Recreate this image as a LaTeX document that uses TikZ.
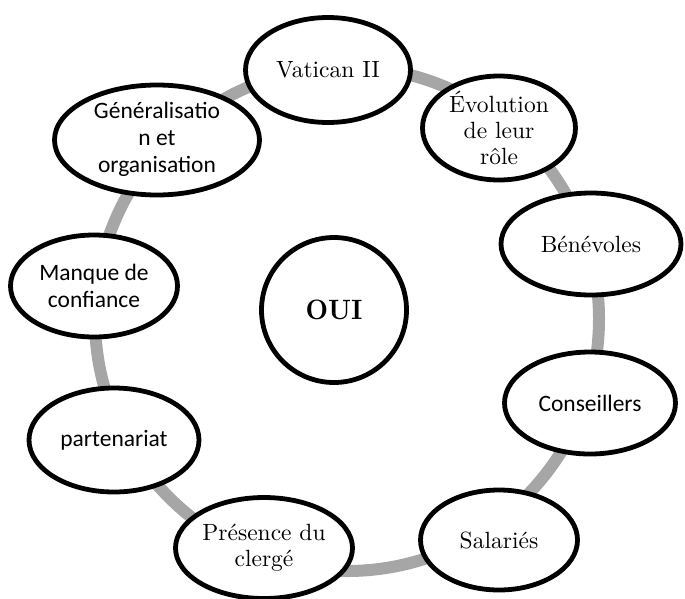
\documentclass[tikz,border=0pt]{standalone}
\usepackage{fontspec}
\usepackage{graphicx}
\newfontfamily\calibri{Carlito}
\newfontfamily\cmten{lmroman10-regular}[Extension=.otf, BoldFont=lmroman10-bold]
\usetikzlibrary{shapes.geometric}
\definecolor{ringgray}{HTML}{A6A6A6}
\begin{document}
\begin{tikzpicture}[x=1pt,y=-1pt,
  ring/.style={draw=ringgray, line width=12pt},
  bubble/.style={ellipse, draw=black, fill=white, line width=4.8pt, align=center, inner xsep=-25pt, inner ysep=-18pt},
  serif/.style={font=\cmten\fontsize{23.5}{26}\selectfont},
  sans/.style={font=\calibri\fontsize{23.5}{27}\selectfont},
]
\useasboundingbox (0,0) rectangle (685,598);
\coordinate (c) at (347,319);
\draw[ring] (c) circle[radius=252pt];

\node[bubble, sans, minimum width=205pt, minimum height=110pt] (gen) at (157,140) {\raisebox{-5pt}{\begin{tabular}{@{}c@{}}Généralisatio\\n et\\organisation\end{tabular}}};
\node[bubble, serif, minimum width=165pt, minimum height=105pt] (vat) at (328,70) {Vatican II};
\node[bubble, serif, minimum width=153pt, minimum height=104pt] (evo) at (499,128) {Évolution\\de leur\\rôle};
\node[bubble, serif, minimum width=180pt, minimum height=102pt] (ben) at (591,244) {Bénévoles};
\node[bubble, sans, minimum width=171pt, minimum height=102pt] (con) at (590,403) {Conseillers};
\node[bubble, serif, minimum width=157pt, minimum height=100pt] (sal) at (499,540) {Salariés};
\node[bubble, serif, minimum width=177pt, minimum height=101pt] (pre) at (264,548) {Présence du\\clergé};
\node[bubble, sans, minimum width=170pt, minimum height=104pt] (par) at (114,440) {partenariat};
\node[bubble, sans, minimum width=167pt, minimum height=102pt] (man) at (94,286) {Manque de\\confiance};
\node[circle, draw=black, fill=white, line width=4.8pt, inner sep=0pt, minimum size=145pt, font=\cmten\bfseries\fontsize{28}{32}\selectfont] (oui) at (334,310) {\scalebox{0.93}[1]{OUI}};
\end{tikzpicture}
\end{document}
